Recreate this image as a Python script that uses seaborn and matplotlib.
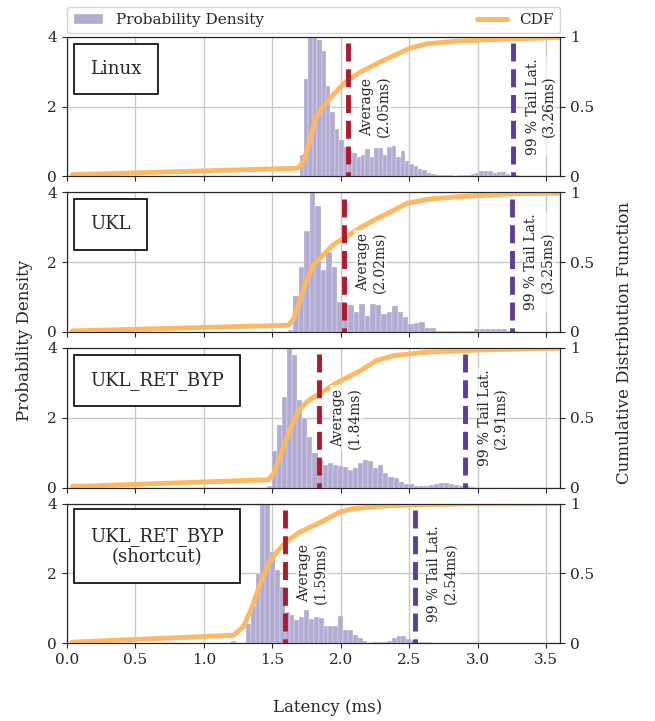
import numpy as np
import pandas as pd
import seaborn as sns
import matplotlib.pyplot as plt
from matplotlib.patches import Patch
from matplotlib.lines import Line2D

names = ["Linux", "UKL", "UKL_RET_BYP", "UKL_RET_BYP\n(shortcut)"]
avg_ms = [2.05, 2.02, 1.84, 1.59]
tail_ms = [3.26, 3.25, 2.91, 2.54]

# histogram: left edge of first bin, bin width, density of each bin
hist_start = [1.70, 1.614, 1.46, 1.20]
hist_width = [0.032, 0.040, 0.037, 0.0355]

hist_linux = [0.6, 2.8, 4.5, 4.5, 3.9, 3.6, 2.6, 1.85, 1.35, 1.05, 0.85, 0.72, 0.68,
              0.55, 0.6, 0.78, 0.55, 0.8, 0.82, 0.6, 0.85, 0.88, 0.55, 0.72, 0.45,
              0.35, 0.3, 0.2, 0.18, 0.1, 0.08, 0.05, 0.04, 0.03, 0.04, 0.02, 0.04,
              0.03, 0.04, 0.06, 0.1, 0.14, 0.16, 0.15, 0.1, 0.13, 0.11, 0.07, 0.04,
              0.03, 0.02, 0.02]
hist_ukl = [0.05, 1.02, 1.87, 2.9, 4.5, 3.6, 1.78, 2.3, 1.87, 0.85, 0.8, 0.76, 0.56,
            0.8, 0.46, 0.8, 0.78, 0.5, 0.56, 0.74, 0.56, 0.42, 0.22, 0.27, 0.28, 0.1,
            0.1, 0.03, 0.03, 0.02, 0.03, 0.03, 0.02, 0.04, 0.08, 0.07, 0.08, 0.07,
            0.08, 0.08, 0.03, 0.02]
hist_ret = [0.05, 1.05, 1.8, 2.6, 4.5, 3.8, 2.5, 2.0, 1.45, 1.0, 0.8, 0.66, 0.71,
            0.64, 0.61, 0.58, 0.51, 0.56, 0.71, 0.8, 0.76, 0.56, 0.66, 0.42, 0.29,
            0.27, 0.17, 0.1, 0.1, 0.05, 0.04, 0.05, 0.06, 0.1, 0.13, 0.12, 0.1, 0.08,
            0.05, 0.03, 0.02]
hist_short = [0.05, 0, 0, 0.55, 1.05, 1.97, 4.5, 4.5, 2.6, 2.1, 1.6, 0.9, 0.8, 0.66,
              0.75, 0.95, 0.7, 0.75, 0.73, 0.5, 0.49, 0.49, 0.78, 0.37, 0.37, 0.22,
              0.15, 0.05, 0, 0.03, 0.02, 0.03, 0.05, 0.15, 0.2, 0.2, 0.13, 0.08, 0.04,
              0.03, 0.02]
hists = [hist_linux, hist_ukl, hist_ret, hist_short]

# CDF curves
cdf_x_linux = [0.04, 1.68, 1.70, 1.73, 1.78, 1.82, 1.87, 1.95, 2.04, 2.14, 2.29, 2.40,
               2.51, 2.63, 2.87, 3.24, 3.60]
cdf_y_linux = [0.012, 0.058, 0.07, 0.11, 0.28, 0.42, 0.50, 0.59, 0.68, 0.745, 0.82,
               0.87, 0.92, 0.95, 0.97, 0.985, 0.995]
cdf_x_ukl = [0.04, 1.617, 1.654, 1.70, 1.75, 1.80, 1.87, 1.946, 2.02, 2.14, 2.26,
             2.385, 2.48, 2.63, 2.87, 3.24, 3.60]
cdf_y_ukl = [0.007, 0.048, 0.09, 0.225, 0.37, 0.48, 0.55, 0.625, 0.67, 0.745, 0.81,
             0.87, 0.92, 0.95, 0.97, 0.99, 0.995]
cdf_x_ret = [0.04, 1.47, 1.507, 1.556, 1.63, 1.70, 1.76, 1.84, 1.97, 2.14, 2.26,
             2.385, 2.63, 3.0, 3.6]
cdf_y_ret = [0.007, 0.056, 0.097, 0.22, 0.42, 0.56, 0.62, 0.67, 0.75, 0.835, 0.91,
             0.945, 0.97, 0.985, 0.998]
cdf_x_short = [0.04, 1.215, 1.288, 1.349, 1.41, 1.47, 1.53, 1.605, 1.70, 1.85, 1.995,
               2.07, 2.26, 2.51, 2.87, 3.6]
cdf_y_short = [0.007, 0.056, 0.116, 0.25, 0.42, 0.565, 0.65, 0.73, 0.795, 0.865, 0.94,
               0.96, 0.98, 0.99, 0.997, 1.0]
cdf_xs = [cdf_x_linux, cdf_x_ukl, cdf_x_ret, cdf_x_short]
cdf_ys = [cdf_y_linux, cdf_y_ukl, cdf_y_ret, cdf_y_short]

c_hist = "#b2abd2"
c_cdf = "#fdb863"
c_avg = "#b2182b"
c_tail = "#5e3c99"

sns.set_style("ticks")
plt.rcParams["font.family"] = ["DejaVu Serif"]
plt.rcParams["xtick.labelsize"] = 11
plt.rcParams["ytick.labelsize"] = 11

fig, axes = plt.subplots(4, 1, figsize=(6.55, 7.21), dpi=100, sharex=True)
fig.subplots_adjust(left=0.102, right=0.855, top=0.949, bottom=0.108, hspace=0.115)

for i, ax in enumerate(axes):
    h = hists[i]
    w = hist_width[i]
    lo = hist_start[i]
    df = pd.DataFrame({"lat": lo + w * (np.arange(len(h)) + 0.5), "dens": h})
    sns.histplot(data=df, x="lat", weights="dens", binwidth=w,
                 binrange=(lo, lo + w * len(h)), stat="count", color=c_hist,
                 alpha=1, edgecolor="white", linewidth=0.2, ax=ax)
    ax.set_xlim(0, 3.6)
    ax.set_ylim(0, 4)
    ax.set_yticks([0, 2, 4])
    ax.set_xticks(np.arange(0, 3.51, 0.5))
    ax.set_ylabel("")
    ax.set_xlabel("")
    ax.grid(True, color="#c8c8c8", lw=1)
    ax.set_axisbelow(True)

    ax2 = ax.twinx()
    sns.lineplot(x=cdf_xs[i], y=cdf_ys[i], color=c_cdf, lw=3.5, ax=ax2, legend=False,
                 zorder=2)
    ax2.set_ylim(0, 1)
    ax2.set_yticks([0, 0.5, 1])
    ax2.set_yticklabels(["0", "0.5", "1"])
    # dashed markers drawn top-down so the first dash starts whole at the top
    ax2.plot([avg_ms[i], avg_ms[i]], [0.955, 0], color=c_avg, ls="--", lw=3.5, zorder=3)
    ax2.plot([tail_ms[i], tail_ms[i]], [0.955, 0], color=c_tail, ls="--", lw=3.5,
             zorder=3)
    tbox = dict(facecolor="white", alpha=0.6, edgecolor="none", pad=1)
    ax2.text(avg_ms[i] + 0.2, 0.5, f"Average\n({avg_ms[i]:.2f}ms)", rotation=90,
             ha="center", va="center", fontsize=10, bbox=tbox, zorder=5)
    ax2.text(tail_ms[i] + 0.2, 0.5, f"99 % Tail Lat.\n({tail_ms[i]:.2f}ms)", rotation=90,
             ha="center", va="center", fontsize=10, bbox=tbox, zorder=5)
    ax2.text(0.047, 0.835, names[i], transform=ax2.transAxes, ha="left", va="top",
             multialignment="center", fontsize=13, zorder=6,
             bbox=dict(boxstyle="square,pad=0.9", facecolor="white", edgecolor="black",
                       lw=1.2))

handles = [Patch(facecolor=c_hist, label="Probability Density"),
           Line2D([0], [0], color=c_cdf, lw=3.5, label="CDF")]
axes[0].legend(handles=handles, loc="lower left", bbox_to_anchor=(0, 1.025, 1, 0.2),
               mode="expand", ncol=2, borderaxespad=0, fontsize=11)

fig.text(0.038, 0.528, "Probability Density", rotation=90, ha="center", va="center",
         fontsize=12)
fig.text(0.954, 0.524, "Cumulative Distribution Function", rotation=90, ha="center",
         va="center", fontsize=12)
fig.text(0.5, 0.019, "Latency (ms)", ha="center", va="center", fontsize=12)

fig.savefig("out.png", dpi=100)
